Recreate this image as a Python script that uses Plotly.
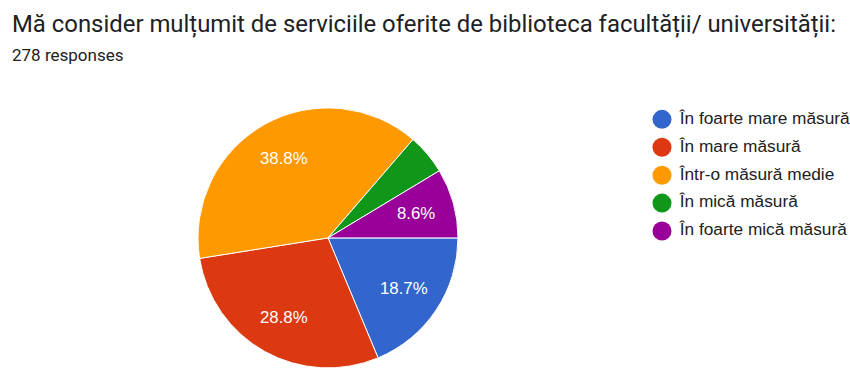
import math
import plotly.graph_objects as go

# Survey answers (Romanian) and number of respondents for each option
labels = [
    "În foarte mare măsură",
    "În mare măsură",
    "Într-o măsură medie",
    "În mică măsură",
    "În foarte mică măsură",
]
counts = [52, 80, 108, 14, 24]
colors = ["#3366cc", "#dc3912", "#ff9900", "#109618", "#990099"]
# the smallest slice carries no percentage label
show_label = [True, True, True, False, True]

title_text = "Mă consider mulțumit de serviciile oferite de biblioteca facultății/ universității:"
subtitle_text = f"{sum(counts)} responses"

W, H = 850, 368
LABEL_FONT = "Liberation Sans, Arial, sans-serif"

# pie placement (paper fractions)
pie_x = [198 / W, 458 / W]
pie_y = [0.0, 0.707]

fig = go.Figure()

fig.add_trace(go.Pie(
    labels=labels,
    values=counts,
    sort=False,
    direction="clockwise",
    rotation=90,
    marker=dict(colors=colors, line=dict(color="white", width=1)),
    textinfo="none",
    hoverinfo="label+percent",
    showlegend=False,
    domain=dict(x=pie_x, y=pie_y),
))

# percentage labels placed along each slice's bisector
w_px = (pie_x[1] - pie_x[0]) * W
h_px = (pie_y[1] - pie_y[0]) * H
radius = min(w_px, h_px) / 2
cx = (pie_x[0] + pie_x[1]) / 2 * W
cy = H - (pie_y[0] + pie_y[1]) / 2 * H
total = sum(counts)
annotations = []
cum = 0
for c, show in zip(counts, show_label):
    mid = (cum + c / 2) / total
    cum += c
    if not show:
        continue
    ang = 2 * math.pi * mid  # clockwise from 3 o'clock
    px = cx + 0.70 * radius * math.cos(ang)
    py = cy + 0.70 * radius * math.sin(ang)
    annotations.append(dict(
        text=f"{c / total * 100:.1f}%", x=px / W, y=1 - py / H,
        xref="paper", yref="paper", xanchor="center", yanchor="middle",
        showarrow=False,
        font=dict(family=LABEL_FONT, size=16.8, color="white"),
    ))

# legend: circle markers with the answer text beside them
fig.add_trace(go.Scatter(
    x=[0] * len(labels),
    y=list(range(len(labels))),
    mode="markers+text",
    marker=dict(symbol="circle", size=19, color=colors),
    text=["\u00a0" + lab for lab in labels],
    textposition="middle right",
    textfont=dict(family=LABEL_FONT, size=17.3, color="#222222"),
    hoverinfo="skip",
    showlegend=False,
    cliponaxis=False,
))

annotations += [
    dict(text=title_text, x=10 / W, y=1 - 24 / H, xref="paper", yref="paper",
         xanchor="left", yanchor="middle", showarrow=False,
         font=dict(family="Roboto, sans-serif", size=23.9, color="#202124")),
    dict(text=subtitle_text, x=10 / W, y=1 - 55 / H, xref="paper", yref="paper",
         xanchor="left", yanchor="middle", showarrow=False,
         font=dict(family="Roboto, sans-serif", size=17, color="#202124")),
]

fig.update_layout(
    width=W, height=H,
    margin=dict(l=0, r=0, t=0, b=0),
    paper_bgcolor="white",
    plot_bgcolor="rgba(0,0,0,0)",
    showlegend=False,
    xaxis=dict(visible=False, domain=[662 / W, 1.0], range=[0, 1], fixedrange=True),
    yaxis=dict(visible=False, domain=[1 - 245 / H, 1 - 105.4 / H],
               range=[len(labels) - 0.5, -0.5], fixedrange=True),
    annotations=annotations,
)

fig.write_html("out.html")
